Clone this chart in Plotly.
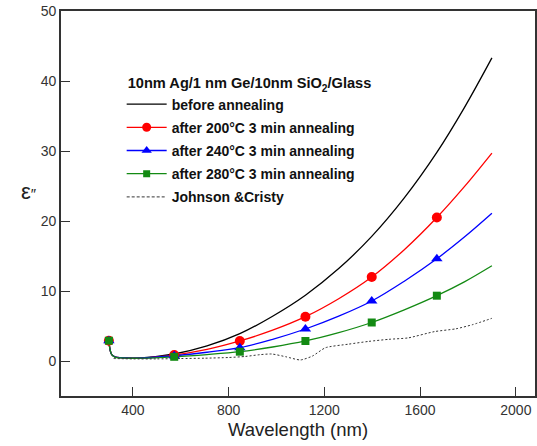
import plotly.graph_objects as go

# Wavelength grid (nm) for the annealing series
wavelength = [300, 305, 312, 325, 350, 436, 573, 710, 847, 984, 1121, 1260,
              1398, 1534, 1670, 1785, 1900]

# Imaginary part of the dielectric function, eps''
eps_before = [2.9, 1.6, 0.9, 0.6, 0.48, 0.46, 1.0, 2.15, 3.9, 6.4, 9.4, 13.2,
              17.8, 23.3, 29.8, 36.2, 43.3]
eps_200 = [2.9, 1.6, 0.9, 0.6, 0.48, 0.44, 0.85, 1.65, 2.86, 4.4, 6.33, 8.9,
           12.0, 15.9, 20.5, 24.9, 29.7]
eps_240 = [2.9, 1.6, 0.9, 0.6, 0.47, 0.43, 0.75, 1.25, 1.9, 3.1, 4.57, 6.4,
           8.57, 11.4, 14.6, 17.7, 21.1]
eps_280 = [2.9, 1.6, 0.9, 0.55, 0.44, 0.4, 0.6, 0.92, 1.33, 2.0, 2.86, 4.05,
           5.5, 7.3, 9.33, 11.3, 13.6]

# Johnson & Christy bulk silver reference
jc_wavelength = [320, 400, 500, 600, 700, 800, 870, 930, 980, 1040, 1100, 1150,
                 1205, 1300, 1385, 1470, 1550, 1660, 1750, 1820, 1900]
jc_eps = [0.35, 0.3, 0.3, 0.35, 0.4, 0.5, 0.65, 0.9, 1.0, 0.6, 0.15, 0.7,
          1.9, 2.4, 2.8, 3.1, 3.3, 4.2, 4.6, 5.2, 6.1]

# Wavelengths carrying a symbol on the annealed curves
marker_wavelength = [300, 573, 847, 1121, 1398, 1670]

x_ticks = [400, 800, 1200, 1600, 2000]
y_ticks = [0, 10, 20, 30, 40, 50]

series = [
    ("before annealing", eps_before, "#000000", None, 0),
    ("after 200°C 3 min annealing", eps_200, "#ff0000", "circle", 10),
    ("after 240°C 3 min annealing", eps_240, "#0000ff", "triangle-up", 10),
    ("after 280°C 3 min annealing", eps_280, "#138a13", "square", 8),
]

FONT = "Liberation Sans, Arial"

fig = go.Figure()

# Smooth curves
for name, vals, color, sym, size in series:
    fig.add_trace(go.Scatter(
        x=wavelength, y=vals, mode="lines", showlegend=False,
        line=dict(color=color, width=1.3, shape="spline", smoothing=1.0),
        hoverinfo="skip"))

fig.add_trace(go.Scatter(
    x=jc_wavelength, y=jc_eps, mode="lines", showlegend=False,
    line=dict(color="#333333", width=1, dash="2px,2px", shape="spline", smoothing=0.6)))

# Symbols on the annealed curves
for name, vals, color, sym, size in series:
    if sym is None:
        continue
    lookup = dict(zip(wavelength, vals))
    fig.add_trace(go.Scatter(
        x=marker_wavelength, y=[lookup[w] for w in marker_wavelength],
        mode="markers", showlegend=False,
        marker=dict(symbol=sym, size=size, color=color)))

# Legend entries
for i, (name, vals, color, sym, size) in enumerate(series):
    fig.add_trace(go.Scatter(
        x=[None], y=[None], name=name, legendgroup=f"g{i}",
        mode="lines+markers" if sym else "lines",
        line=dict(color=color, width=1.3),
        marker=dict(symbol=sym or "circle", size=max(size - 1, 0), color=color)))
fig.add_trace(go.Scatter(
    x=[None], y=[None], name="Johnson &Cristy", legendgroup="g4", mode="lines",
    line=dict(color="#333333", width=1, dash="3px,2px")))

axis_common = dict(
    showline=True, linecolor="#333333", linewidth=1.6, mirror=True,
    ticks="inside", ticklen=9, tickwidth=1.2, tickcolor="#333333",
    showgrid=False, zeroline=False,
    tickfont=dict(family=FONT, size=14, color="#333333"),
)

fig.update_layout(
    width=537, height=446,
    margin=dict(l=61, r=0, t=11, b=50),
    paper_bgcolor="white", plot_bgcolor="white",
    xaxis=dict(range=[100, 2080], tickvals=x_ticks,
               title=dict(text="Wavelength (nm)", standoff=6,
                          font=dict(family=FONT, size=18.5, color="#222222")),
               **axis_common),
    yaxis=dict(range=[-5, 50], tickvals=y_ticks, **axis_common),
    legend=dict(
        x=0.128, y=0.848, xanchor="left", yanchor="top",
        bgcolor="rgba(0,0,0,0)", itemwidth=40, tracegroupgap=2,
        traceorder="grouped",
        font=dict(family=FONT, size=14, color="#111111", weight="bold"),
        title=dict(text="<b>&nbsp;10nm Ag/1 nm Ge/10nm SiO<sub>2</sub>/Glass</b>",
                   font=dict(family=FONT, size=14.6, color="#111111")),
    ),
    annotations=[dict(
        text="ε<span style='font-size:15px'>″</span>", xref="paper", yref="paper",
        x=-0.088, y=0.532, showarrow=False,
        font=dict(family=FONT, size=22, color="#222222"))],
)

fig.write_html("out.html")
